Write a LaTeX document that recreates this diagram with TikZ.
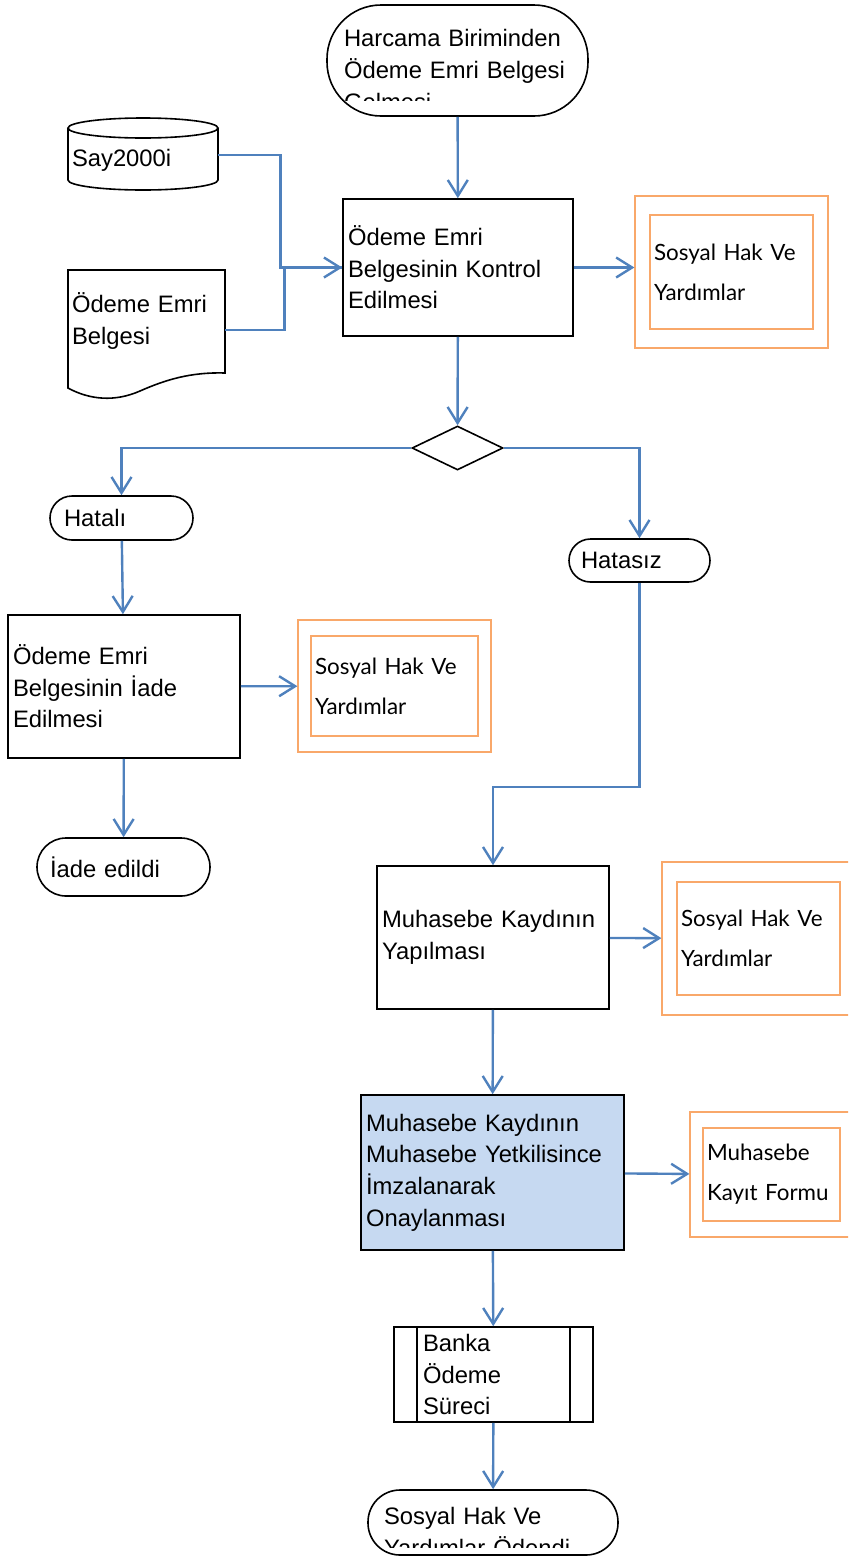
\documentclass[tikz,border=0pt]{standalone}
\usepackage{fontspec}
\setmainfont{Liberation Sans}
\newfontfamily\gillfont{Lato}
\usetikzlibrary{arrows.meta,shapes.geometric}
\definecolor{flowblue}{HTML}{4F81BD}
\definecolor{shorange}{HTML}{F9A86A}
\definecolor{onayfill}{HTML}{C6D9F1}

\begin{document}
\begin{tikzpicture}[x=0.5pt, y=-0.5pt]
\tikzstyle{every node}=[font=\fontsize{11.9}{15.8}\selectfont]
\tikzstyle{proc}=[draw, line width=0.8pt, rectangle, align=left, inner sep=0pt]
\tikzstyle{term}=[draw, line width=0.8pt, rectangle, align=left, inner sep=0pt]
\tikzstyle{shout}=[draw=shorange, line width=0.6pt, minimum width=96.5pt]
\tikzstyle{shin}=[draw=shorange, line width=0.6pt, align=left, inner sep=0pt, font=\gillfont\fontsize{11.2}{20}\selectfont]
\tikzstyle{flow}=[draw=flowblue, line width=1.2pt, -{Straight Barb[length=8pt,width=10pt]}]
\tikzstyle{link}=[draw=flowblue, line width=1.2pt]

\clip (0,0) rectangle (848,1559);

\node[term, rounded corners=27pt, minimum width=130.5pt, minimum height=55.5pt] (start) at (457.5,60.5) {};
\begin{scope}
\clip (330,8) rectangle (585,100);
\node[text width=120pt, align=left, inner sep=0pt] (starttxt) at (464,70) {Harcama Biriminden\\Ödeme Emri Belgesi\\Gelmesi};
\end{scope}

\node[inner sep=0pt, minimum width=75pt, minimum height=33pt, text width=71pt, align=left] (db) at (143,160) {Say2000i};
\draw[line width=0.8pt] (143,128) ellipse [x radius=37.5pt, y radius=5pt];
\draw[line width=0.8pt] (68,128) -- (68,180) arc[start angle=180, end angle=360, x radius=37.5pt, y radius=5pt] -- (218,128);

\node[inner sep=0pt, minimum width=78.5pt, minimum height=51pt, text width=74.5pt, align=left] (doc) at (146.5,321) {Ödeme Emri\\Belgesi};
\draw[line width=0.8pt] (68,270) -- (225,270) -- (225,373) .. controls (190,372) and (165,380) .. (140,391) .. controls (115,402) and (90,400) .. (68,388) -- cycle;

\node[proc, minimum width=115pt, minimum height=68.5pt, text width=110pt] (ctrl) at (458,267.5) {Ödeme Emri\\Belgesinin Kontrol\\Edilmesi};

\node[shout, minimum height=76pt] (sh1) at (731.5,272) {};
\node[shin, minimum width=81.5pt, minimum height=57pt, text width=77.5pt] (sh1in) at (sh1) {Sosyal Hak Ve\\Yardımlar};

\node[draw, diamond, line width=0.8pt, minimum width=45.5pt, minimum height=22pt, inner sep=0pt] (dec) at (457.5,448) {};

\node[term, rounded corners=11pt, minimum width=71.5pt, minimum height=22pt, text width=57.5pt] (hatali) at (121.5,518) {Hatalı};
\node[term, rounded corners=10.75pt, minimum width=70.5pt, minimum height=21.5pt, text width=58.5pt] (hatasiz) at (639.5,560.5) {Hatasız};

\node[proc, minimum width=116pt, minimum height=71.5pt, text width=111pt] (iade) at (124,686.5) {Ödeme Emri\\Belgesinin İade\\Edilmesi};
\node[shout, minimum height=66pt] (sh2) at (394.5,686) {};
\node[shin, minimum width=83.5pt, minimum height=50pt, text width=79.5pt] (sh2in) at (sh2) {Sosyal Hak Ve\\Yardımlar};
\node[term, rounded corners=14.5pt, minimum width=86.5pt, minimum height=29pt, text width=73.5pt] (iadeed) at (123.5,867) {İade edildi};

\node[proc, minimum width=116pt, minimum height=71.5pt, text width=111pt] (muh) at (493,937.5) {Muhasebe Kaydının\\Yapılması};
\node[shout, minimum height=76.5pt] (sh3) at (758.5,938.5) {};
\node[shin, minimum width=81.5pt, minimum height=56.5pt, text width=77.5pt] (sh3in) at (sh3) {Sosyal Hak Ve\\Yardımlar};

\node[proc, fill=onayfill, minimum width=131.5pt, minimum height=77.5pt, text width=126.5pt] (onay) at (492.5,1172.5) {Muhasebe Kaydının\\Muhasebe Yetkilisince\\İmzalanarak\\Onaylanması};
\node[shout, minimum width=81.5pt, minimum height=62.5pt] (form) at (771.5,1174.5) {};
\node[shin, minimum width=68.5pt, minimum height=46.5pt, text width=64.5pt] (formin) at (form) {Muhasebe\\Kayıt Formu};

\node[proc, minimum width=99.5pt, minimum height=47.5pt, text width=70.5pt] (banka) at (493.5,1374.5) {Banka\\Ödeme\\Süreci};
\draw[line width=0.8pt] ([xshift=12pt]banka.north west) -- ([xshift=12pt]banka.south west);
\draw[line width=0.8pt] ([xshift=-12pt]banka.north east) -- ([xshift=-12pt]banka.south east);

\node[term, rounded corners=16pt, minimum width=125pt, minimum height=32.5pt] (endt) at (493,1522.5) {};
\begin{scope}
\clip (370,1492) rectangle (616,1547);
\node[text width=110pt, align=left, inner sep=0pt] (endtxt) at (494,1532) {Sosyal Hak Ve\\Yardımlar Ödendi};
\end{scope}

\draw[flow] (start) -- (ctrl);
\draw[flow] ([yshift=2.5pt]db.east) -- ++(62,0) |- (ctrl.west);
\draw[link] ([yshift=-4.5pt]doc.east) -- ++(59,0) |- (ctrl.west);
\draw[flow] (ctrl.east) -- (ctrl.east -| sh1.west);
\draw[flow] (ctrl) -- (dec);
\draw[flow] (dec.west) -| (hatali.north);
\draw[flow] (dec.east) -| (hatasiz.north);
\draw[flow] (hatali) -- (iade);
\draw[flow] (iade) -- (sh2);
\draw[flow] (iade) -- (iadeed);
\draw[flow] (hatasiz.south) -- ++(0,204) -| (muh.north);
\draw[flow] (muh) -- (sh3);
\draw[flow] (muh) -- (onay);
\draw[flow] (onay) -- (form);
\draw[flow] (onay) -- (banka);
\draw[flow] (banka) -- (endt);
\end{tikzpicture}
\end{document}
